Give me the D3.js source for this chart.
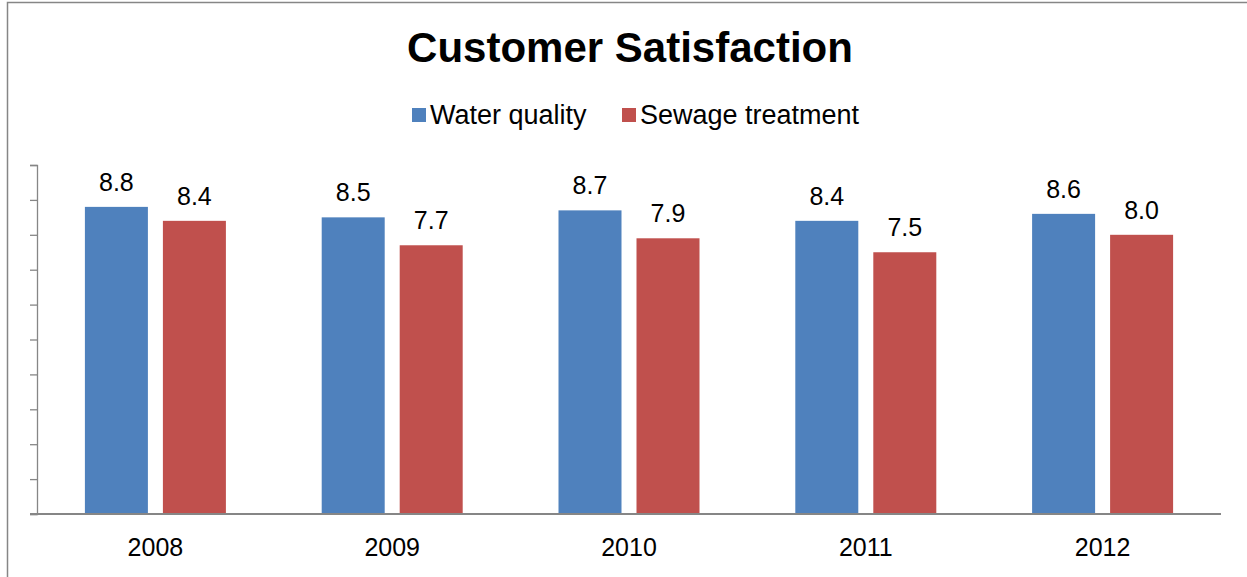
<!DOCTYPE html>
<html>
<head>
<meta charset="utf-8">
<script src="https://cdn.jsdelivr.net/npm/d3@7"></script>
<style>
  body { margin: 0; background: #fff; }
  svg { display: block; font-family: Arial, "Liberation Sans", sans-serif; }
</style>
</head>
<body>
<div id="chart"></div>
<script>
// chart data
var years = ["2008", "2009", "2010", "2011", "2012"]
var waterQuality = [8.8, 8.5, 8.7, 8.4, 8.6]
var sewageTreatment = [8.4, 7.7, 7.9, 7.5, 8.0]
var seriesNames = ["Water quality", "Sewage treatment"]
var seriesColors = ["#4f81bd", "#c0504d"]

var width = 1247
var height = 577

var svg = d3.select("#chart")
  .append("svg")
  .attr("width", width)
  .attr("height", height)

// outer chart frame (runs off right and bottom edge)
svg.append("rect")
  .attr("x", 7.5)
  .attr("y", 2.5)
  .attr("width", 1260)
  .attr("height", 600)
  .attr("fill", "none")
  .attr("stroke", "#868686")
  .attr("stroke-width", 1.5)

var plotLeft = 37, plotRight = 1221, plotTop = 165, plotBottom = 514

var x = d3.scaleBand()
  .domain(years)
  .range([plotLeft, plotRight])

var y = d3.scaleLinear()
  .domain([0, 10])
  .range([plotBottom, plotTop])

var barW = 63, barGap = 15

var rows = years.map(function (yr, i) {
  return { year: yr, values: [waterQuality[i], sewageTreatment[i]] }
})

// title
svg.append("text")
  .attr("x", 630)
  .attr("y", 62)
  .attr("text-anchor", "middle")
  .style("font-size", "42px")
  .style("font-weight", "bold")
  .text("Customer Satisfaction")

// legend
var legendX = [412, 622]
seriesNames.forEach(function (name, i) {
  svg.append("rect")
    .attr("x", legendX[i])
    .attr("y", 108)
    .attr("width", 14)
    .attr("height", 14)
    .attr("fill", seriesColors[i])
  svg.append("text")
    .attr("x", legendX[i] + 18)
    .attr("y", 124)
    .style("font-size", "27px")
    .text(name)
})

// bars
var groups = svg.append("g")
  .selectAll("g")
  .data(rows)
  .enter()
  .append("g")

groups.selectAll("rect")
  .data(function (d) { return d.values.map(function (v, j) { return { year: d.year, v: v, j: j } }) })
  .enter()
  .append("rect")
  .attr("x", function (d) {
    var c = x(d.year) + x.bandwidth() / 2
    return d.j == 0 ? c - barGap / 2 - barW : c + barGap / 2
  })
  .attr("y", function (d) { return y(d.v) })
  .attr("width", barW)
  .attr("height", function (d) { return y(0) - y(d.v) })
  .attr("fill", function (d) { return seriesColors[d.j] })

groups.selectAll("text")
  .data(function (d) { return d.values.map(function (v, j) { return { year: d.year, v: v, j: j } }) })
  .enter()
  .append("text")
  .attr("x", function (d) {
    var c = x(d.year) + x.bandwidth() / 2
    return d.j == 0 ? c - barGap / 2 - barW / 2 : c + barGap / 2 + barW / 2
  })
  .attr("y", function (d) { return y(d.v) - 16 })
  .attr("text-anchor", "middle")
  .style("font-size", "25px")
  .text(function (d) { return d3.format(".1f")(d.v) })

// y axis: ticks, no labels
var yAxis = svg.append("g")
  .attr("transform", "translate(" + plotLeft + ",0)")
  .call(d3.axisLeft(y).ticks(10).tickSize(7).tickSizeOuter(7).tickFormat(""))
yAxis.selectAll("path, line").attr("stroke", "#868686").attr("stroke-width", 1.3)

// x axis
var xAxis = svg.append("g")
  .attr("transform", "translate(0," + plotBottom + ")")
  .call(d3.axisBottom(x).tickSize(0).tickSizeOuter(0).tickPadding(24))
xAxis.select(".domain").attr("stroke", "#868686").attr("stroke-width", 2)
  .attr("d", "M" + (plotLeft - 7) + ",0H" + plotRight)
xAxis.selectAll("text")
  .style("font-size", "25px")
  .style("font-family", "Arial, 'Liberation Sans', sans-serif")
  .attr("fill", "#000")
</script>
</body>
</html>
